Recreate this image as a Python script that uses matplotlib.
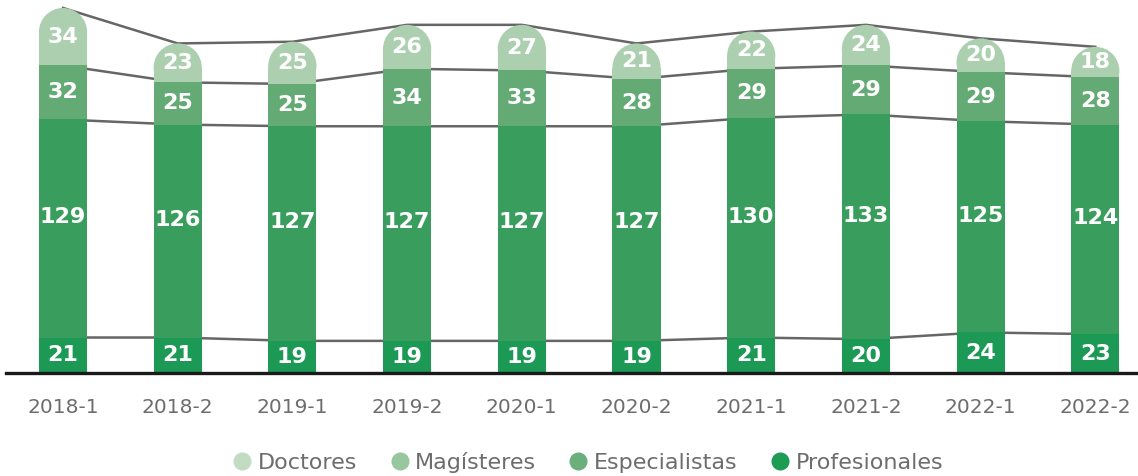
import matplotlib.pyplot as plt
from matplotlib.patches import Ellipse
from matplotlib.lines import Line2D
import numpy as np

periodos = ['2018-1', '2018-2', '2019-1', '2019-2', '2020-1',
            '2020-2', '2021-1', '2021-2', '2022-1', '2022-2']
profesionales = [21, 21, 19, 19, 19, 19, 21, 20, 24, 23]
especialistas = [129, 126, 127, 127, 127, 127, 130, 133, 125, 124]
magisteres = [32, 25, 25, 34, 33, 28, 29, 29, 29, 28]
doctores = [34, 23, 25, 26, 27, 21, 22, 24, 20, 18]

# bar colours (as drawn) and legend colours (a bit lighter in the original)
bar_colors = ['#1b9955', '#399e5d', '#64aa74', '#abcfaf']
leg_colors = ['#c2dcc3', '#98c79f', '#6bb07c', '#1e9b55']
nombres = ['Doctores', 'Magísteres', 'Especialistas', 'Profesionales']

fig = plt.figure(figsize=(11.38, 4.76), dpi=100)
ax = fig.add_axes([0, 103 / 476, 1, 373 / 476])

x = np.arange(len(periodos))
w = 0.42
ymax = 220.7
xmin, xmax = -63 / 114.7, 1075 / 114.7
ax.set_xlim(xmin, xmax)
ax.set_ylim(0, ymax)

# radius of the round cap, in data units along y
r_px = w * ax.bbox.width / (xmax - xmin) / 2
r_y = r_px / (ax.bbox.height / ymax)

series = [profesionales, especialistas, magisteres, doctores]
bottom = np.zeros(len(x))
for k, vals in enumerate(series):
    vals = np.array(vals, dtype=float)
    top = bottom + vals
    ax.plot(x, top, color='#666666', lw=1.8, zorder=1)
    if k == len(series) - 1:
        ax.bar(x, vals - r_y, w, bottom=bottom, color=bar_colors[k],
               edgecolor='none', zorder=3)
        for xi, t in zip(x, top):
            ax.add_patch(Ellipse((xi, t - r_y), w, 2 * r_y,
                                 color=bar_colors[k], lw=0, zorder=2.5))
    else:
        ax.bar(x, vals, w, bottom=bottom, color=bar_colors[k],
               edgecolor='none', zorder=3)
    dy = 8 if k == 1 else 0
    for xi, b, v in zip(x, bottom, vals):
        ax.annotate(f'{int(v)}', (xi, b + v / 2), xytext=(0, dy),
                    textcoords='offset points', ha='center', va='center',
                    color='white', fontsize=16, fontweight='bold', zorder=5)
    bottom = top

for s in ['top', 'right', 'left']:
    ax.spines[s].set_visible(False)
ax.spines['bottom'].set_linewidth(2.4)
ax.spines['bottom'].set_color('#1a1a1a')
ax.spines['bottom'].set_bounds(xmin + 6 / 114.7, xmax)
ax.spines['bottom'].set_zorder(6)
ax.set_yticks([])
ax.set_xticks(x)
ax.set_xticklabels(periodos, fontsize=14.5, color='#6d6d6d')
ax.tick_params(axis='x', length=0, pad=18)

handles = [Line2D([], [], ls='none', marker='o', markersize=13,
                  markerfacecolor=c, markeredgecolor='none') for c in leg_colors]
fig.legend(handles, nombres, loc='center', bbox_to_anchor=(0.516, 0.029),
           ncol=4, frameon=False, fontsize=16, labelcolor='#6d6d6d',
           handletextpad=0.2, columnspacing=1.4, handlelength=1.0)

fig.savefig('out.png', dpi=100)
